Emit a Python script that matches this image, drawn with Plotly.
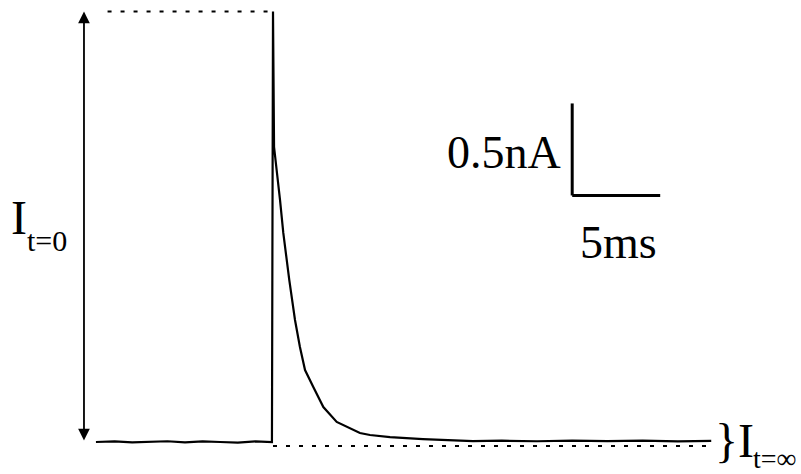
import plotly.graph_objects as go

# Current trace (time in ms, current in nA)
t_ms = [-10.06, -9.0, -8.0, -7.0, -6.0, -5.0, -4.0, -3.0, -2.0, -1.0, -0.06,
        0.0, 0.06, 0.40, 0.585, 0.926, 1.08, 1.25, 1.53, 1.82, 2.29, 2.86,
        3.62, 4.375, 4.94, 5.51, 6.65, 8.52, 11.36,
        13.0, 15.0, 17.0, 19.0, 21.0, 23.0, 24.9]
i_nA = [0.0, 0.003, -0.002, 0.002, 0.004, -0.002, 0.003, 0.0, -0.003, 0.003, 0.0,
        2.34, 1.603, 1.315, 1.136, 0.880, 0.772, 0.663, 0.516, 0.391, 0.299, 0.190,
        0.109, 0.076, 0.049, 0.038, 0.027, 0.016, 0.005,
        0.007, 0.004, 0.008, 0.005, 0.007, 0.003, 0.006]

peak_nA = 2.34          # I(t=0)
steady_nA = 0.0         # I(t=inf)
scale_t_ms = 5.0        # time scale bar
scale_i_nA = 0.5        # current scale bar
scale_origin = (17.0, 1.34)

W, H = 801, 474
px_per_ms = 17.6
px_per_nA = 184.0
x0_px, y0_px = 273.0, 442.0

x_range = [(0 - x0_px) / px_per_ms, (W - x0_px) / px_per_ms]
y_range = [(y0_px - H) / px_per_nA, (y0_px - 0) / px_per_nA]

def px(x):
    return x / W

def py(y):
    return 1 - y / H

fig = go.Figure()
fig.add_trace(go.Scatter(x=t_ms, y=i_nA, mode="lines",
                         line=dict(color="black", width=2.2), hoverinfo="skip"))

# dotted reference lines
fig.add_shape(type="line", x0=-9.4, x1=0, y0=peak_nA, y1=peak_nA,
              line=dict(color="black", width=2, dash="4px,9px"))
fig.add_shape(type="line", x0=0, x1=24.9, y0=steady_nA - 0.022, y1=steady_nA - 0.022,
              line=dict(color="black", width=2, dash="4px,9px"))

# scale bar
sx, sy = scale_origin
fig.add_shape(type="line", x0=sx, x1=sx, y0=sy, y1=sy + scale_i_nA,
              line=dict(color="black", width=3))
fig.add_shape(type="line", x0=sx, x1=sx + scale_t_ms, y0=sy, y1=sy,
              line=dict(color="black", width=3))

# double headed arrow for I(t=0)
fig.add_annotation(x=-10.74, y=peak_nA, ax=-10.74, ay=steady_nA, xref="x", yref="y",
                   axref="x", ayref="y", showarrow=True, arrowhead=2, arrowside="end+start",
                   arrowwidth=1.8, arrowsize=1.3, arrowcolor="black", text="")

font = "Liberation Serif"
fig.add_annotation(x=px(563), y=py(153), xref="paper", yref="paper", text="0.5nA",
                   showarrow=False, xanchor="right", yanchor="middle",
                   font=dict(family=font, size=46, color="black"))
fig.add_annotation(x=px(618), y=py(243), xref="paper", yref="paper", text="5ms",
                   showarrow=False, xanchor="center", yanchor="middle",
                   font=dict(family=font, size=46, color="black"))
fig.add_annotation(x=px(9), y=py(218), xref="paper", yref="paper", text="I",
                   showarrow=False, xanchor="left", yanchor="middle",
                   font=dict(family=font, size=48, color="black"))
fig.add_annotation(x=px(25), y=py(240), xref="paper", yref="paper", text="t=0",
                   showarrow=False, xanchor="left", yanchor="middle",
                   font=dict(family=font, size=30, color="black"))
fig.add_annotation(x=px(713), y=py(440), xref="paper", yref="paper", text="}I",
                   showarrow=False, xanchor="left", yanchor="middle",
                   font=dict(family=font, size=48, color="black"))
fig.add_annotation(x=px(751), y=py(458), xref="paper", yref="paper", text="t=∞",
                   showarrow=False, xanchor="left", yanchor="middle",
                   font=dict(family=font, size=28, color="black"))

fig.update_xaxes(range=x_range, visible=False)
fig.update_yaxes(range=y_range, visible=False)
fig.update_layout(width=W, height=H, margin=dict(l=0, r=0, t=0, b=0),
                  plot_bgcolor="white", paper_bgcolor="white", showlegend=False)

fig.write_html("out.html", config={"displayModeBar": False},
               post_script="document.body.style.margin='0px';document.body.style.overflow='hidden';")
